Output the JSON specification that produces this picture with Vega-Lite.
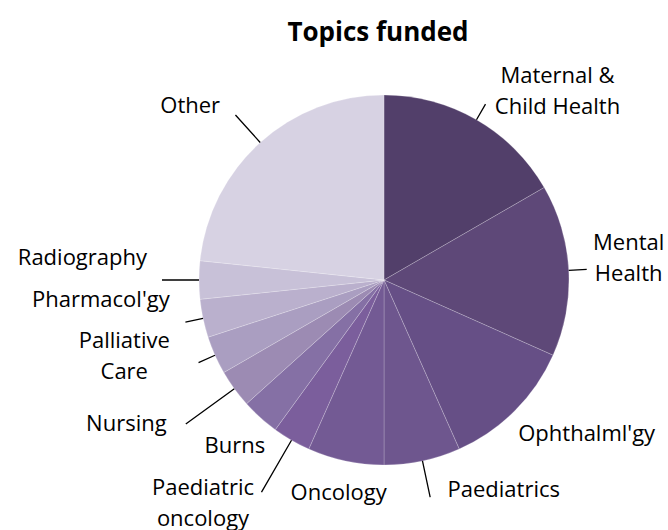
{
  "$schema": "https://vega.github.io/schema/vega-lite/v6.json",
  "width": 568,
  "height": 500,
  "padding": {"left": 100, "top": 30, "right": 0, "bottom": 0},
  "autosize": {"type": "none"},
  "background": "white",
  "title": {"text": "Topics funded", "font": "Open Sans", "fontSize": 26, "fontWeight": "bold", "color": "#000000", "frame": "group", "anchor": "middle", "dx": -6, "dy": 0, "baseline": "alphabetic", "offset": -82},
  "data": {"values": [
    {"rank": 1, "topic": "Maternal & Child Health", "label": "Maternal &\nChild Health", "count": 10},
    {"rank": 2, "topic": "Mental Health", "label": "Mental\nHealth", "count": 9},
    {"rank": 3, "topic": "Ophthalml'gy", "label": "Ophthalml'gy", "count": 7},
    {"rank": 4, "topic": "Paediatrics", "label": "Paediatrics", "count": 4},
    {"rank": 5, "topic": "Oncology", "label": "Oncology", "count": 4},
    {"rank": 6, "topic": "Paediatric oncology", "label": "Paediatric\noncology", "count": 2},
    {"rank": 7, "topic": "Burns", "label": "Burns", "count": 2},
    {"rank": 8, "topic": "Nursing", "label": "Nursing", "count": 2},
    {"rank": 9, "topic": "Palliative Care", "label": "Palliative\nCare", "count": 2},
    {"rank": 10, "topic": "Pharmacol'gy", "label": "Pharmacol'gy", "count": 2},
    {"rank": 11, "topic": "Radiography", "label": "Radiography", "count": 2},
    {"rank": 12, "topic": "Other", "label": "Other", "count": 14}
  ]},
  "encoding": {
    "theta": {"field": "count", "type": "quantitative", "stack": true},
    "order": {"field": "rank", "type": "quantitative", "sort": "ascending"}
  },
  "layer": [
    {
      "mark": {"type": "arc", "outerRadius": 185, "stroke": "#ffffff", "strokeWidth": 0.6, "strokeOpacity": 0.35},
      "encoding": {
        "color": {"field": "topic", "type": "nominal", "legend": null,
          "scale": {
            "domain": ["Maternal & Child Health", "Mental Health", "Ophthalml'gy", "Paediatrics", "Oncology", "Paediatric oncology", "Burns", "Nursing", "Palliative Care", "Pharmacol'gy", "Radiography", "Other"],
            "range": ["#523F6A", "#5E4878", "#664F86", "#6E568E", "#735A94", "#7B5E9C", "#8570A5", "#9C8BB3", "#AA9EC1", "#BAB0CD", "#C8C1D8", "#D7D2E3"]
          }
        }
      }
    },
    {
      "mark": {"type": "arc", "padAngle": 3.14, "filled": false, "stroke": "#000000", "strokeWidth": 1.3},
      "encoding": {
        "radius": {"value": 203},
        "radius2": {"value": 185},
        "strokeOpacity": {"condition": {"test": "indexof([1, 2, 9, 10], datum.rank) >= 0", "value": 1}, "value": 0}
      }
    },
    {
      "mark": {"type": "arc", "padAngle": 3.14, "filled": false, "stroke": "#000000", "strokeWidth": 1.3},
      "encoding": {
        "radius": {"value": 222},
        "radius2": {"value": 185},
        "strokeOpacity": {"condition": {"test": "indexof([4, 11, 12], datum.rank) >= 0", "value": 1}, "value": 0}
      }
    },
    {
      "mark": {"type": "arc", "padAngle": 3.14, "filled": false, "stroke": "#000000", "strokeWidth": 1.3},
      "encoding": {
        "radius": {"value": 245},
        "radius2": {"value": 185},
        "strokeOpacity": {"condition": {"test": "indexof([6, 8], datum.rank) >= 0", "value": 1}, "value": 0}
      }
    },
    {
      "mark": {"type": "text", "font": "Open Sans", "fontSize": 22, "lineHeight": 31, "lineBreak": "\n", "color": "#000000", "baseline": "middle", "align": "center", "dx": 49, "dy": 12},
      "encoding": {"radius": {"value": 249}, "text": {"condition": {"test": "datum.rank == 1", "field": "label"}, "value": ""}}
    },
    {
      "mark": {"type": "text", "font": "Open Sans", "fontSize": 22, "lineHeight": 31, "lineBreak": "\n", "color": "#000000", "baseline": "middle", "align": "center", "dx": 0, "dy": -24},
      "encoding": {"radius": {"value": 245}, "text": {"condition": {"test": "datum.rank == 2", "field": "label"}, "value": ""}}
    },
    {
      "mark": {"type": "text", "font": "Open Sans", "fontSize": 22, "lineHeight": 31, "lineBreak": "\n", "color": "#000000", "baseline": "middle", "align": "left", "dx": -10, "dy": 10},
      "encoding": {"radius": {"value": 204}, "text": {"condition": {"test": "datum.rank == 3", "field": "label"}, "value": ""}}
    },
    {
      "mark": {"type": "text", "font": "Open Sans", "fontSize": 22, "lineHeight": 31, "lineBreak": "\n", "color": "#000000", "baseline": "middle", "align": "left", "dx": 18, "dy": -4},
      "encoding": {"radius": {"value": 219}, "text": {"condition": {"test": "datum.rank == 4", "field": "label"}, "value": ""}}
    },
    {
      "mark": {"type": "text", "font": "Open Sans", "fontSize": 22, "lineHeight": 31, "lineBreak": "\n", "color": "#000000", "baseline": "middle", "align": "center", "dx": 0, "dy": 0},
      "encoding": {"radius": {"value": 218}, "text": {"condition": {"test": "datum.rank == 5", "field": "label"}, "value": ""}}
    },
    {
      "mark": {"type": "text", "font": "Open Sans", "fontSize": 22, "lineHeight": 31, "lineBreak": "\n", "color": "#000000", "baseline": "middle", "align": "center", "dx": -39, "dy": -38},
      "encoding": {"radius": {"value": 284}, "text": {"condition": {"test": "datum.rank == 6", "field": "label"}, "value": ""}}
    },
    {
      "mark": {"type": "text", "font": "Open Sans", "fontSize": 22, "lineHeight": 31, "lineBreak": "\n", "color": "#000000", "baseline": "middle", "align": "center", "dx": 0, "dy": 0},
      "encoding": {"radius": {"value": 223}, "text": {"condition": {"test": "datum.rank == 7", "field": "label"}, "value": ""}}
    },
    {
      "mark": {"type": "text", "font": "Open Sans", "fontSize": 22, "lineHeight": 31, "lineBreak": "\n", "color": "#000000", "baseline": "middle", "align": "right", "dx": -7, "dy": -9},
      "encoding": {"radius": {"value": 260}, "text": {"condition": {"test": "datum.rank == 8", "field": "label"}, "value": ""}}
    },
    {
      "mark": {"type": "text", "font": "Open Sans", "fontSize": 22, "lineHeight": 31, "lineBreak": "\n", "color": "#000000", "baseline": "middle", "align": "center", "dx": -14, "dy": -48},
      "encoding": {"radius": {"value": 269}, "text": {"condition": {"test": "datum.rank == 9", "field": "label"}, "value": ""}}
    },
    {
      "mark": {"type": "text", "font": "Open Sans", "fontSize": 22, "lineHeight": 31, "lineBreak": "\n", "color": "#000000", "baseline": "middle", "align": "right", "dx": -5, "dy": -24},
      "encoding": {"radius": {"value": 214}, "text": {"condition": {"test": "datum.rank == 10", "field": "label"}, "value": ""}}
    },
    {
      "mark": {"type": "text", "font": "Open Sans", "fontSize": 22, "lineHeight": 31, "lineBreak": "\n", "color": "#000000", "baseline": "middle", "align": "right", "dx": 0, "dy": -22},
      "encoding": {"radius": {"value": 237}, "text": {"condition": {"test": "datum.rank == 11", "field": "label"}, "value": ""}}
    },
    {
      "mark": {"type": "text", "font": "Open Sans", "fontSize": 22, "lineHeight": 31, "lineBreak": "\n", "color": "#000000", "baseline": "middle", "align": "right", "dx": -4, "dy": 4},
      "encoding": {"radius": {"value": 239}, "text": {"condition": {"test": "datum.rank == 12", "field": "label"}, "value": ""}}
    }
  ]
}
